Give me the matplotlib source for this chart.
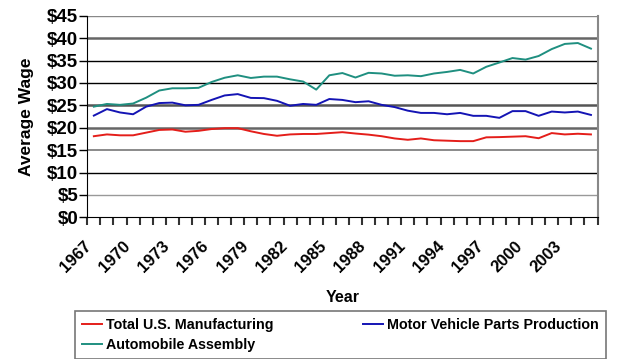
import matplotlib
matplotlib.use("Agg")
import matplotlib.pyplot as plt
from matplotlib.ticker import FuncFormatter, FixedLocator
from matplotlib.transforms import ScaledTranslation
import numpy as np

years = list(range(1967, 2006))
total_mfg = [18.1, 18.5, 18.3, 18.3, 18.9, 19.5, 19.6, 19.1, 19.3, 19.7,
             19.9, 19.9, 19.2, 18.6, 18.2, 18.5, 18.6, 18.6, 18.8, 19.0,
             18.7, 18.45, 18.1, 17.6, 17.3, 17.6, 17.2, 17.1, 17.0, 17.0,
             17.85, 17.9, 18.0, 18.1, 17.65, 18.8, 18.5, 18.65, 18.5]
parts = [22.7, 24.15, 23.4, 23.0, 24.7, 25.5, 25.6, 25.0, 25.1, 26.2,
         27.2, 27.5, 26.65, 26.6, 26.0, 24.9, 25.3, 25.1, 26.4, 26.2,
         25.7, 25.9, 25.1, 24.6, 23.8, 23.3, 23.3, 23.0, 23.3, 22.65,
         22.65, 22.2, 23.7, 23.7, 22.65, 23.6, 23.4, 23.6, 22.85]
assembly = [24.7, 25.3, 25.1, 25.4, 26.7, 28.3, 28.8, 28.8, 28.9, 30.2,
            31.15, 31.7, 31.1, 31.4, 31.4, 30.8, 30.3, 28.5, 31.7, 32.2,
            31.2, 32.25, 32.1, 31.6, 31.7, 31.5, 32.1, 32.45, 32.9, 32.1,
            33.6, 34.55, 35.55, 35.2, 36.0, 37.55, 38.7, 38.9, 37.65]
y_ticks = [0, 5, 10, 15, 20, 25, 30, 35, 40, 45]
labels = ["Total U.S. Manufacturing", "Motor Vehicle Parts Production", "Automobile Assembly"]

# gridline appearance (mimics the uneven rendering of the original)
grid_colors = ["#000000", "#999999", "#000000", "#777777", "#666666", "#555555",
               "#000000", "#000000", "#666666", "#888888"]
grid_widths = [1.0, 1.0, 1.0, 1.2, 1.8, 1.8, 1.0, 1.0, 1.8, 1.0]

plt.rcParams['font.family'] = ['Liberation Sans', 'DejaVu Sans']
plt.rcParams['font.weight'] = 'bold'

fig = plt.figure(figsize=(6.24, 3.59), dpi=100)
ax = fig.add_axes([87.3/624, 1-217.3/359, (597.5-87.3)/624, (217.3-15.7)/359])

x = np.arange(len(years))
for yv, c, w in zip(y_ticks[1:], grid_colors[1:], grid_widths[1:]):
    ax.axhline(yv, color=c, lw=w, zorder=1)

l1, = ax.plot(x, total_mfg, color="#e41e1a", lw=1.4, zorder=3)
l2, = ax.plot(x, parts, color="#1414b4", lw=1.4, zorder=3)
l3, = ax.plot(x, assembly, color="#1f8f80", lw=1.4, zorder=3)

ax.set_xlim(-0.5, len(years) - 0.5)
ax.set_ylim(0, 45)
ax.set_yticks(y_ticks)
ax.yaxis.set_major_formatter(FuncFormatter(lambda v, p: f"${int(v)}"))
ax.tick_params(axis='y', length=5.5, width=1, pad=1, labelsize=13.5, color='black')

ax.set_xticks(x[::3])
ax.set_xticklabels([str(y) for y in years[::3]], rotation=45, ha='right',
                   va='top', fontsize=12)
shift = ScaledTranslation(-6/100, 0, fig.dpi_scale_trans)
for lab in ax.get_xticklabels():
    lab.set_transform(lab.get_transform() + shift)
ax.xaxis.set_minor_locator(FixedLocator(np.arange(-0.5, len(years), 1)))
ax.tick_params(axis='x', which='major', length=0, pad=15.5)
ax.tick_params(axis='x', which='minor', length=6, width=1.5, color='#333333', direction='out')

ax.spines['top'].set_visible(False)
ax.spines['right'].set_color('#888888')
ax.spines['right'].set_linewidth(1.5)
ax.spines['left'].set_color('black')
ax.spines['bottom'].set_color('black')

ax.set_ylabel("Average Wage", fontsize=12.5, fontweight='bold', va='center')
ax.yaxis.set_label_coords(-0.12, 0.5)
ax.set_xlabel("Year", fontsize=11.5, fontweight='bold')
ax.xaxis.set_label_coords(0.5, -0.40)
ax.xaxis.label.set_va('center')

leg = fig.legend([l1, l3, l2], [labels[0], labels[2], labels[1]], ncol=2,
                 loc='center', mode='expand',
                 bbox_to_anchor=(75/624, 1-355/359, (606-75)/624, 40/359),
                 fontsize=10.3, frameon=True, fancybox=False, borderaxespad=0,
                 handlelength=1.4, handletextpad=0.28, labelspacing=0.4,
                 borderpad=0.5)
leg.get_frame().set_edgecolor('#555555')
leg.get_frame().set_linewidth(1.2)
for t in leg.get_texts():
    t.set_fontweight('bold')

fig.savefig("out.png", dpi=100)
